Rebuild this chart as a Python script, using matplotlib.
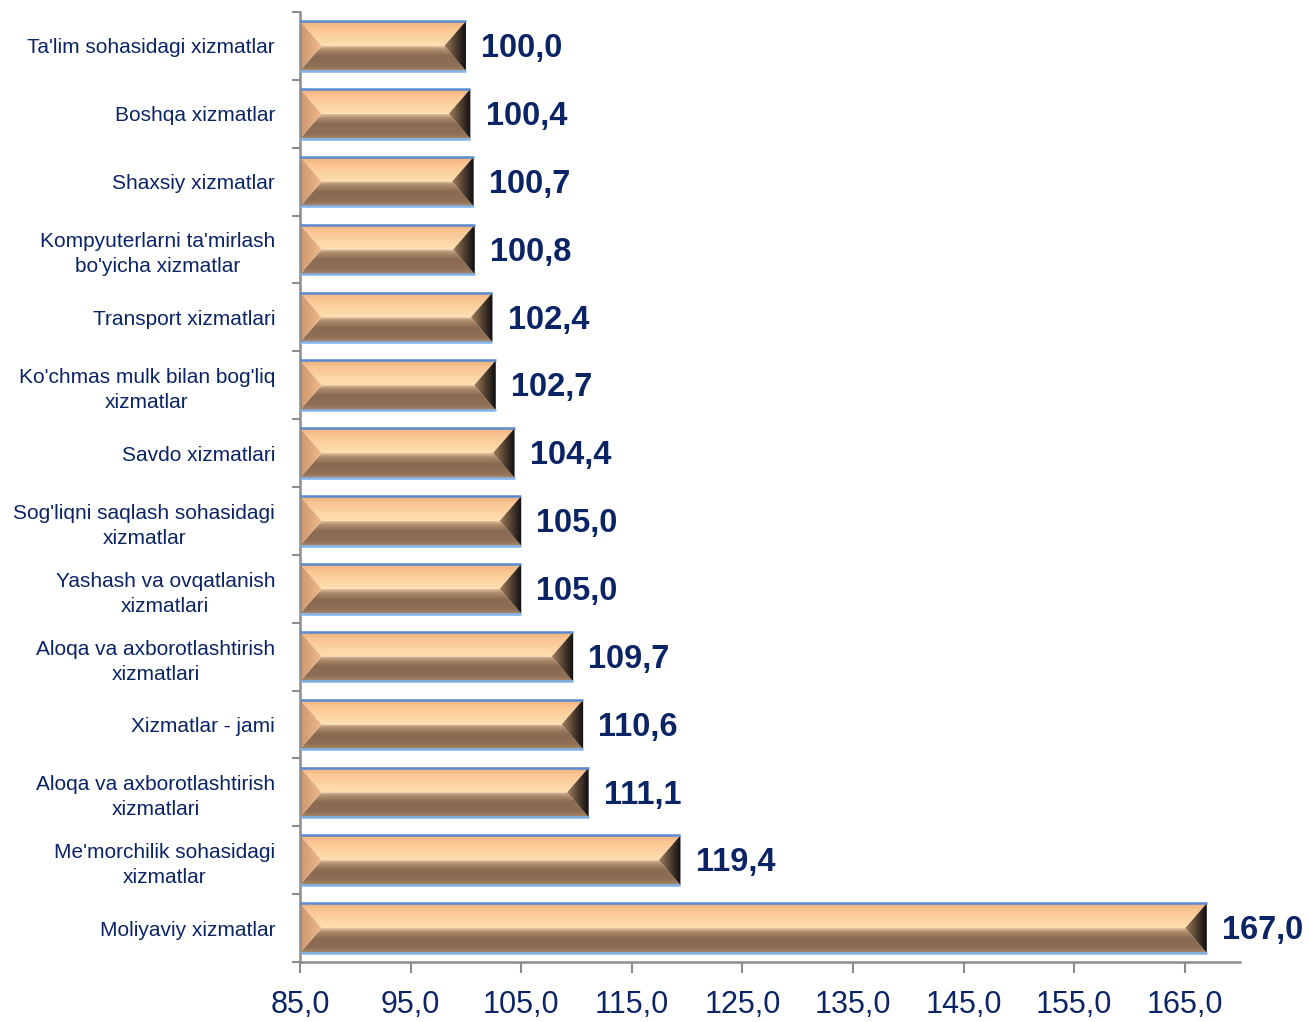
"""Bevelled horizontal bar chart of service growth indices."""

import matplotlib.pyplot as plt
import numpy as np
from matplotlib.colors import LinearSegmentedColormap
from matplotlib.patches import Polygon

plt.rcParams["font.family"] = ["Liberation Sans", "DejaVu Sans"]

NAVY = "#0B2465"
AXIS_GRAY = "#8C8C8C"

categories = [
    "Ta'lim sohasidagi xizmatlar",
    "Boshqa xizmatlar",
    "Shaxsiy xizmatlar",
    "Kompyuterlarni ta'mirlash\nbo'yicha xizmatlar",
    "Transport xizmatlari",
    "Ko'chmas mulk bilan bog'liq\nxizmatlar",
    "Savdo xizmatlari",
    "Sog'liqni saqlash sohasidagi\nxizmatlar",
    "Yashash va ovqatlanish\nxizmatlari",
    "Aloqa va axborotlashtirish\nxizmatlari",
    "Xizmatlar - jami",
    "Aloqa va axborotlashtirish\nxizmatlari",
    "Me'morchilik sohasidagi\nxizmatlar",
    "Moliyaviy xizmatlar",
]
values = [100.0, 100.4, 100.7, 100.8, 102.4, 102.7, 104.4,
          105.0, 105.0, 109.7, 110.6, 111.1, 119.4, 167.0]
x_ticks = [85, 95, 105, 115, 125, 135, 145, 155, 165]
x_min, x_max = 85, 170

bar_h = 0.73
bevel = 1.95  # bevel depth in x data units

cm_top = LinearSegmentedColormap.from_list(
    "top", [(0, "#EDB080"), (0.3, "#FBC692"), (1, "#FFE0B2")])
cm_bot = LinearSegmentedColormap.from_list(
    "bot", [(0, "#E2C09A"), (0.15, "#AE8C6C"), (0.4, "#8A6B52"),
            (0.8, "#8E6E55"), (1, "#AA8A6B")])
cm_left = LinearSegmentedColormap.from_list(
    "left", [(0, "#CC9670"), (1, "#F0BA8C")])
cm_right = LinearSegmentedColormap.from_list(
    "right", [(0, "#A07E5C"), (0.55, "#4E3D2E"), (1, "#0E0E12")])

fig = plt.figure(figsize=(13.08, 10.22), dpi=100)
ax = fig.add_axes([0.2294, 0.0587, 0.7186, 0.9296])

y = np.arange(len(categories))
grad = np.linspace(0, 1, 128)


def fill_region(verts, cmap, extent, vertical):
    patch = Polygon(verts, closed=True, facecolor="none", edgecolor="none")
    ax.add_patch(patch)
    img = grad.reshape(-1, 1) if vertical else grad.reshape(1, -1)
    im = ax.imshow(img, cmap=cmap, extent=extent, origin="lower",
                   aspect="auto", interpolation="bilinear", zorder=2)
    im.set_clip_path(patch)


for yc, v in zip(y, values):
    x0, x1 = x_min, v
    top, bot, mid = yc - bar_h / 2, yc + bar_h / 2, yc
    d = min(bevel, (x1 - x0) / 2)
    # axis is inverted, so smaller y is the upper edge on screen
    fill_region([(x0, top), (x1, top), (x1 - d, mid), (x0 + d, mid)],
                cm_top, (x0, x1, top, mid), True)
    fill_region([(x0 + d, mid), (x1 - d, mid), (x1, bot), (x0, bot)],
                cm_bot, (x0, x1, mid, bot), True)
    fill_region([(x0, top), (x0 + d, mid), (x0, bot)],
                cm_left, (x0, x0 + d, top, bot), False)
    fill_region([(x1, top), (x1 - d, mid), (x1, bot)],
                cm_right, (x1 - d, x1, top, bot), False)
    ax.plot([x0, x1], [top, top], color="#5A8AD0", lw=1.8, zorder=3,
            solid_capstyle="butt")
    ax.plot([x0, x1], [bot, bot], color="#80B2EA", lw=1.8, zorder=3,
            solid_capstyle="butt")
    ax.annotate(f"{v:.1f}".replace(".", ","), xy=(x1, yc),
                xytext=(11, -2), textcoords="offset points",
                ha="left", va="center", fontsize=23.5, fontweight="bold",
                color=NAVY, annotation_clip=False)

ax.set_xlim(x_min, x_max)
ax.set_ylim(len(categories) - 0.5, -0.5)

ax.set_xticks(x_ticks)
ax.set_xticklabels([f"{t:.1f}".replace(".", ",") for t in x_ticks],
                   fontsize=22, color=NAVY)
ax.tick_params(axis="x", direction="out", length=8, width=1.5,
               color=AXIS_GRAY, pad=12)

ax.set_yticks(np.arange(-0.5, len(categories), 1.0))
ax.set_yticklabels([])
ax.set_yticks(y, minor=True)
ax.set_yticklabels(categories, minor=True, fontsize=15, color=NAVY)
ax.tick_params(axis="y", which="major", direction="out", length=6,
               width=1.5, color=AXIS_GRAY)
ax.tick_params(axis="y", which="minor", length=0, pad=18)
for lbl in ax.get_yticklabels(minor=True):
    lbl.set_multialignment("center")
    lbl.set_linespacing(1.4)

for side in ("top", "right"):
    ax.spines[side].set_visible(False)
for side in ("left", "bottom"):
    ax.spines[side].set_color(AXIS_GRAY)
    ax.spines[side].set_linewidth(1.8)

fig.savefig("out.png", dpi=100)
